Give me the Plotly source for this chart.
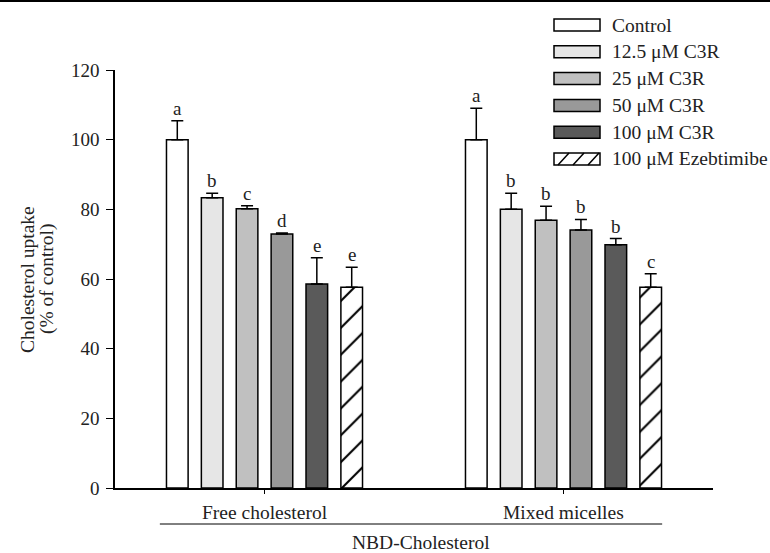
import plotly.graph_objects as go

groups = ["Free cholesterol", "Mixed micelles"]
treatments = ["Control", "12.5 μM C3R", "25 μM C3R", "50 μM C3R", "100 μM C3R", "100 μM Ezebtimibe"]
means = {
    "Control": [100.0, 100.0],
    "12.5 μM C3R": [83.3, 80.0],
    "25 μM C3R": [80.2, 76.9],
    "50 μM C3R": [72.9, 74.1],
    "100 μM C3R": [58.6, 69.8],
    "100 μM Ezebtimibe": [57.6, 57.6],
}
errors = {
    "Control": [5.4, 9.0],
    "12.5 μM C3R": [1.3, 4.6],
    "25 μM C3R": [0.8, 4.0],
    "50 μM C3R": [0.3, 3.0],
    "100 μM C3R": [7.5, 1.8],
    "100 μM Ezebtimibe": [5.8, 3.9],
}
letters = {
    "Control": ["a", "a"],
    "12.5 μM C3R": ["b", "b"],
    "25 μM C3R": ["c", "b"],
    "50 μM C3R": ["d", "b"],
    "100 μM C3R": ["e", "b"],
    "100 μM Ezebtimibe": ["e", "c"],
}
colors = ["#ffffff", "#e6e6e6", "#c0c0c0", "#999999", "#5a5a5a", "#ffffff"]
hatched = [False, False, False, False, False, True]
y_ticks = [0, 20, 40, 60, 80, 100, 120]
x_title = "NBD-Cholesterol"
y_title_lines = ["Cholesterol uptake", "(% of control)"]

FONT = "Liberation Serif"
TXT = "#222"
BARGAP = 0.3
GROUPGAP = 0.38

W, H = 770, 553
ML, MR, MT, MB = 115, 57, 70, 65
PW, PH = W - ML - MR, H - MT - MB


def px2x(px):
    return (px - ML) / PW


def px2y(py):
    return (H - MB - py) / PH


fig = go.Figure()
for i, t in enumerate(treatments):
    pattern = (dict(shape="/", fgcolor="#000000", fgopacity=1, bgcolor="white", size=19, solidity=0.11)
               if hatched[i] else dict(shape=""))
    fig.add_trace(go.Bar(
        name=t, x=groups, y=means[t], showlegend=False,
        marker=dict(color=colors[i], line=dict(color="black", width=1.5), pattern=pattern),
        error_y=dict(type="data", symmetric=False, array=errors[t], arrayminus=[0] * len(groups),
                     color="black", thickness=1.5, width=6),
    ))

n = len(treatments)
slot = (1 - BARGAP) / n
annotations = []
for i, t in enumerate(treatments):
    off = -(1 - BARGAP) / 2 + (i + 0.5) * slot
    for g in range(len(groups)):
        annotations.append(dict(x=g + off, y=means[t][g] + errors[t][g], xref="x", yref="y",
                                text=letters[t][g], showarrow=False, yanchor="bottom", yshift=0,
                                font=dict(family=FONT, size=19, color=TXT)))
for g, name in enumerate(groups):
    annotations.append(dict(x=g, y=0, xref="x", yref="paper", text=name, showarrow=False,
                            yanchor="middle", yshift=-24, font=dict(family=FONT, size=19.5, color=TXT)))
annotations.append(dict(x=0.5, y=0, xref="x", yref="paper", text=x_title, showarrow=False,
                        yanchor="middle", xshift=7, yshift=-54, font=dict(family=FONT, size=19.5, color=TXT)))

# y-axis title (two tightly spaced lines, as in the original)
for j, line in enumerate(y_title_lines):
    annotations.append(dict(x=px2x(27 + 20 * j), y=0.5, xref="paper", yref="paper", text=line,
                            showarrow=False, textangle=-90, xanchor="center", yanchor="middle",
                            font=dict(family=FONT, size=19.5, color=TXT)))

shapes = [
    dict(type="line", xref="paper", yref="paper", x0=px2x(0), x1=px2x(W), y0=px2y(1), y1=px2y(1),
         line=dict(color="black", width=2)),
    dict(type="line", xref="x", yref="paper", x0=-0.35, x1=1.33, y0=px2y(524), y1=px2y(524),
         line=dict(color="black", width=1)),
]

# legend drawn manually (wide rectangular swatches as in the original)
leg_x0, leg_x1 = 554, 600
leg_y_first, leg_pitch, sw_h = 25, 26.8, 12
for i, t in enumerate(treatments):
    cy = leg_y_first + i * leg_pitch
    shapes.append(dict(type="rect", xref="paper", yref="paper",
                       x0=px2x(leg_x0), x1=px2x(leg_x1), y0=px2y(cy + sw_h / 2), y1=px2y(cy - sw_h / 2),
                       fillcolor=colors[i], line=dict(color="black", width=1.5)))
    if hatched[i]:
        for k in range(3):
            xa = leg_x0 + 4 + k * 15
            shapes.append(dict(type="line", xref="paper", yref="paper",
                               x0=px2x(xa), x1=px2x(xa + 11), y0=px2y(cy + sw_h / 2), y1=px2y(cy - sw_h / 2),
                               line=dict(color="black", width=1.5)))
    annotations.append(dict(x=px2x(610), y=px2y(cy), xref="paper", yref="paper", text=t, showarrow=False,
                            xanchor="left", yanchor="middle", font=dict(family=FONT, size=19.5, color=TXT)))

fig.update_layout(
    width=W, height=H,
    margin=dict(l=ML, r=MR, t=MT, b=MB, autoexpand=False),
    paper_bgcolor="white", plot_bgcolor="white",
    barmode="group", bargap=BARGAP, bargroupgap=GROUPGAP,
    font=dict(family=FONT, size=18, color=TXT),
    showlegend=False,
    xaxis=dict(type="category", range=[-0.5, 1.5], showline=True, linecolor="black", linewidth=1.5,
               ticks="outside", ticklen=4, tickcolor="black", showticklabels=False, showgrid=False,
               zeroline=False),
    yaxis=dict(range=[0, 120], tickvals=y_ticks, showline=True, linecolor="black", linewidth=1.5,
               ticks="outside", ticklen=7, tickcolor="black", showgrid=False, zeroline=False,
               ticklabelstandoff=3,
               tickfont=dict(family=FONT, size=19, color=TXT)),
    annotations=annotations,
    shapes=shapes,
)

fig.write_html("out.html", config={"displayModeBar": False},
               post_script="document.body.style.margin='0';document.body.style.overflow='hidden';")
